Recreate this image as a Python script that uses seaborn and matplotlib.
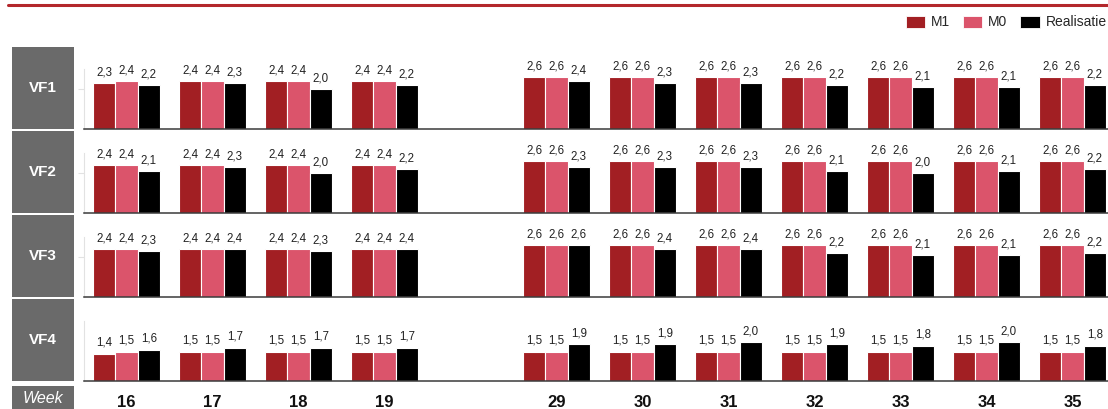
import matplotlib
matplotlib.use("Agg")
import matplotlib.pyplot as plt
from matplotlib.patches import Patch
from matplotlib.lines import Line2D
import pandas as pd
import seaborn as sns

# Weeks shown on the x axis (a blank slot separates 19 and 29)
weeks = ["16", "17", "18", "19", "29", "30", "31", "32", "33", "34", "35"]
series = ["M1", "M0", "Realisatie"]
panels = ["VF1", "VF2", "VF3", "VF4"]

vf1_m1 = [2.3, 2.4, 2.4, 2.4, 2.6, 2.6, 2.6, 2.6, 2.6, 2.6, 2.6]
vf1_m0 = [2.4, 2.4, 2.4, 2.4, 2.6, 2.6, 2.6, 2.6, 2.6, 2.6, 2.6]
vf1_real = [2.2, 2.3, 2.0, 2.2, 2.4, 2.3, 2.3, 2.2, 2.1, 2.1, 2.2]

vf2_m1 = [2.4, 2.4, 2.4, 2.4, 2.6, 2.6, 2.6, 2.6, 2.6, 2.6, 2.6]
vf2_m0 = [2.4, 2.4, 2.4, 2.4, 2.6, 2.6, 2.6, 2.6, 2.6, 2.6, 2.6]
vf2_real = [2.1, 2.3, 2.0, 2.2, 2.3, 2.3, 2.3, 2.1, 2.0, 2.1, 2.2]

vf3_m1 = [2.4, 2.4, 2.4, 2.4, 2.6, 2.6, 2.6, 2.6, 2.6, 2.6, 2.6]
vf3_m0 = [2.4, 2.4, 2.4, 2.4, 2.6, 2.6, 2.6, 2.6, 2.6, 2.6, 2.6]
vf3_real = [2.3, 2.4, 2.3, 2.4, 2.6, 2.4, 2.4, 2.2, 2.1, 2.1, 2.2]

vf4_m1 = [1.4, 1.5, 1.5, 1.5, 1.5, 1.5, 1.5, 1.5, 1.5, 1.5, 1.5]
vf4_m0 = [1.5, 1.5, 1.5, 1.5, 1.5, 1.5, 1.5, 1.5, 1.5, 1.5, 1.5]
vf4_real = [1.6, 1.7, 1.7, 1.7, 1.9, 1.9, 2.0, 1.9, 1.8, 2.0, 1.8]

panel_values = {
    "VF1": [vf1_m1, vf1_m0, vf1_real],
    "VF2": [vf2_m1, vf2_m0, vf2_real],
    "VF3": [vf3_m1, vf3_m0, vf3_real],
    "VF4": [vf4_m1, vf4_m0, vf4_real],
}

palette = {"M1": "#A21F23", "M0": "#DB546B", "Realisatie": "#000000"}
box_grey = "#6A6A6A"

sns.set_style("white")
plt.rcParams["font.family"] = ["Liberation Sans", "DejaVu Sans"]

W, H = 1108, 409
fig = plt.figure(figsize=(W / 100, H / 100), dpi=100)

def fx(px):
    return px / W

def fy(px):
    return 1 - px / H

order = weeks[:4] + [" "] + weeks[4:]

# (top, bottom) pixel rows of each panel
rows = [(47, 128.5), (131, 212.5), (215, 296.5), (299, 380.7)]
ax_left, ax_right = 84, W
slot_px = 86.0
first_center = 126.5

axes = []
for i, name in enumerate(panels):
    top, bot = rows[i]
    # grey label box
    lab = fig.add_axes([fx(12), fy(bot), fx(62), (bot - top) / H])
    lab.set_facecolor(box_grey)
    lab.set_xticks([]); lab.set_yticks([])
    for s in lab.spines.values():
        s.set_visible(False)
    lab.text(0.5, 0.5, name, color="white", fontsize=11, fontweight="bold",
             ha="center", va="center", transform=lab.transAxes)

    ax = fig.add_axes([fx(ax_left), fy(bot), fx(ax_right - ax_left), (bot - top) / H])
    df = pd.DataFrame({
        "week": weeks * 3,
        "series": [s for s in series for _ in weeks],
        "value": panel_values[name][0] + panel_values[name][1] + panel_values[name][2],
    })
    sns.barplot(data=df, x="week", y="value", hue="series", order=order,
                hue_order=series, palette=palette, saturation=1, errorbar=None,
                width=0.78, edgecolor="white", linewidth=0.8, legend=False, ax=ax)
    for c in ax.containers:
        ax.bar_label(c, labels=[f"{v:.1f}".replace(".", ",") for v in c.datavalues],
                     padding=3.5, fontsize=8.3, color="#222222")

    x0 = -(first_center - ax_left) / slot_px
    x1 = x0 + (ax_right - ax_left) / slot_px
    ax.set_xlim(x0, x1)
    ymax = 4.12 if name != "VF4" else 4.22
    ax.set_ylim(0, ymax)
    ax.set_xlabel(""); ax.set_ylabel("")
    ax.spines["top"].set_visible(False)
    ax.spines["right"].set_visible(False)
    ax.spines["left"].set_color("#E2E2E2")
    ax.spines["left"].set_linewidth(0.8)
    ax.spines["left"].set_bounds(0, 3.0 if name != "VF4" else 3.1)
    ax.spines["bottom"].set_color("#3A3A3A")
    ax.spines["bottom"].set_linewidth(1.1)
    ax.set_facecolor("none")
    if name != "VF4":
        ax.set_yticks([2])
        ax.tick_params(axis="y", left=True, length=4, color="#E2E2E2", labelleft=False)
    else:
        ax.set_yticks([])
    if name == "VF4":
        ax.tick_params(axis="x", bottom=False, length=0, pad=10.5)
        ax.set_xticks(range(len(order)))
        ax.set_xticklabels(order, fontsize=12, fontweight="bold", color="#111111")
    else:
        ax.tick_params(axis="x", bottom=False, labelbottom=False)
    axes.append(ax)

# "Week" label box
wk = fig.add_axes([fx(12), fy(409), fx(62), 23 / H])
wk.set_facecolor(box_grey)
wk.set_xticks([]); wk.set_yticks([])
for s in wk.spines.values():
    s.set_visible(False)
wk.text(0.5, 0.45, "Week", color="white", fontsize=11.5, fontstyle="italic",
        ha="center", va="center", transform=wk.transAxes)

# Red rule along the top
fig.add_artist(Line2D([fx(8), 1.0], [fy(4.5), fy(4.5)], color="#B3272C",
                      linewidth=2.2, transform=fig.transFigure))

# Legend
handles = [Patch(facecolor=palette[s], edgecolor="white", linewidth=0.6) for s in series]
fig.legend(handles, series, loc="center right", bbox_to_anchor=(1.0, fy(22.5)),
           ncol=3, frameon=False, fontsize=10, handlelength=1.4, handleheight=1.0,
           handletextpad=0.4, columnspacing=0.95, borderaxespad=0.0, borderpad=0.1)

fig.savefig("out.png", dpi=100)
